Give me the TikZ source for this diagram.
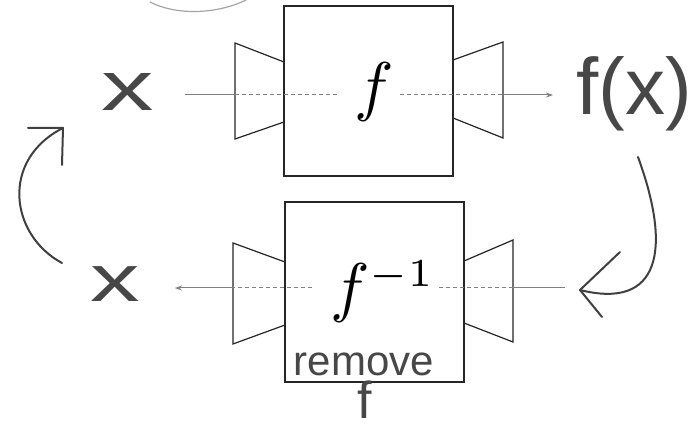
\documentclass[tikz,border=0pt]{standalone}
\usepackage{fontspec}
\newfontfamily\hand{Liberation Sans}
\usetikzlibrary{arrows.meta}
\begin{document}
\begin{tikzpicture}[x=1pt,y=-1pt,
  fbox/.style={draw=black!85,line width=1.2pt,inner sep=0pt,rectangle},
  trap/.style={draw=black!85,line width=1.2pt,line join=miter},
  flow/.style={draw=black!50,line width=1pt},
  dots/.style={draw=black!50,line width=1pt,dash pattern=on 4pt off 3pt},
  ink/.style={draw=black!75,line width=2pt,line cap=round,line join=round},
  hw/.style={text=black!72,inner sep=0pt}]
\useasboundingbox (0,0) rectangle (694,435);
\fill[white] (0,0) rectangle (694,435);

% faint arc at top
\draw[black!35,line width=1.2pt] (150,2) .. controls (175,15) and (215,15) .. (246,0);

% boxes
\node[fbox,minimum width=169pt,minimum height=170pt] (box1) at (368.5,91) {};
\node[fbox,minimum width=179pt,minimum height=180pt] (box2) at (374.5,292) {};

% trapezoids
\draw[trap] (284,62) -- (235,43) -- (235,139) -- (284,122);
\draw[trap] (453,60) -- (503,42) -- (503,138) -- (453,118);
\draw[trap] (285,262) -- (233,243) -- (233,344) -- (285,325);
\draw[trap] (464,261) -- (513,240) -- (513,342) -- (464,323);

% box labels
\node[inner sep=0pt,anchor=base] (flab) at (374,109) {\scalebox{6.6}{$f$}};
\node[inner sep=0pt,anchor=base west] (finv) at (330,310) {\scalebox{6.6}{$f^{\mbox{\fontsize{5.6}{5.6}\selectfont$-1$}}$}};

% handwritten labels
\node[hw,font=\hand\fontsize{70}{70}\selectfont] (xtop) at (128,92) {\scalebox{1.5}[1]{x}};
\node[hw,font=\hand\fontsize{66}{66}\selectfont] (xbot) at (115,284) {\scalebox{1.5}[1]{x}};
\node[hw,font=\hand\fontsize{80}{80}\selectfont,anchor=west] (fx) at (576,94) {f(x)};
\node[hw,font=\hand\fontsize{42}{42}\selectfont] (rem) at (364,364) {remove};
\node[hw,font=\hand\fontsize{52}{52}\selectfont] (fhand) at (365,400) {f};

% top flow
\coordinate (a1) at (185,95);
\coordinate (a2) at (235,95);
\coordinate (a3) at (338,95);
\coordinate (a4) at (400,95);
\coordinate (a5) at (503,95);
\coordinate (a6) at (553,95);
\draw[flow] (a1) -- (a2);
\draw[dots] (a2) -- (a3);
\draw[dots] (a4) -- (a5);
\draw[flow,-{Stealth[length=7pt,width=5pt]}] (a5) -- (a6);

% bottom flow
\coordinate (b1) at (565,288);
\coordinate (b2) at (513,288);
\coordinate (b3) at (438,288);
\coordinate (b4) at (312,288);
\coordinate (b5) at (233,288);
\coordinate (b6) at (175,288);
\draw[flow] (b1) -- (b2);
\draw[dots] (b2) -- (b3);
\draw[dots] (b4) -- (b5);
\draw[flow,-{Stealth[length=7pt,width=5pt]}] (b5) -- (b6);

% hand-drawn curved arrows
\coordinate (l0) at (62,263);
\coordinate (l1) at (63,128);
\draw[ink] (l0) .. controls (10,235) and (0,160) .. (l1);
\draw[ink] (28,128) -- (l1) -- (62,165);

\coordinate (r0) at (638,157);
\coordinate (r1) at (580,290);
\draw[ink] (r0) .. controls (672,250) and (660,310) .. (r1);
\draw[ink] (620,252) -- (r1) -- (602,317);
\end{tikzpicture}
\end{document}
